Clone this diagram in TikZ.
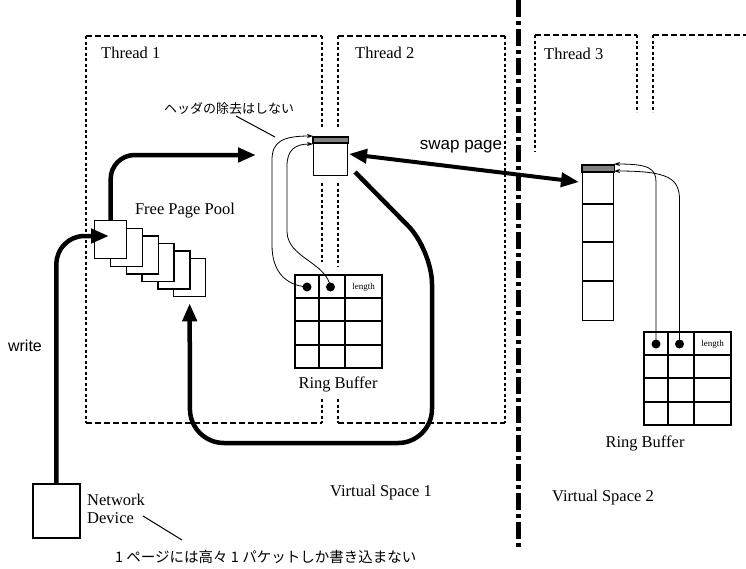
\documentclass[tikz,border=0pt]{standalone}
\usepackage{fontspec}
\setmainfont{Liberation Serif}
\newfontfamily\jpfont{Noto Sans CJK JP}
\newfontfamily\hvfont{Liberation Sans}
\usetikzlibrary{arrows.meta}
\tikzset{
  threadh/.style={line width=1.5pt, dash pattern=on 6pt off 3pt},
  threadv/.style={line width=1.5pt, dash pattern=on 3pt off 2.5pt},
  vsline/.style={line width=5pt, dash pattern=on 17pt off 4pt on 4pt off 4pt},
  bigarrow/.style={line width=4.5pt, -{Triangle[length=18pt,width=14pt]}},
  ptrarrow/.style={line width=0.8pt, -{Stealth[length=6pt,width=4pt]}},
  pagebox/.style={draw, line width=1.3pt, fill=white, minimum width=32pt, minimum height=38pt, inner sep=0pt},
  lbl/.style={font=\fontsize{16.5}{18}\selectfont, inner sep=0pt},
}
\begin{document}
\begin{tikzpicture}[x=1pt,y=-1pt]
\useasboundingbox (0,0) rectangle (746,568);
\draw[threadh] (86,36) -- (322,36);
\draw[threadh] (86,423) -- (322,423);
\draw[threadv] (86,36) -- (86,423);
\draw[threadh] (338,36) -- (505,36);
\draw[threadh] (338,423) -- (505,423);
\draw[threadv] (505,36) -- (505,423);
\foreach \bx/\lo in {322/262,338/267} {
  \draw[threadv] (\bx,36) -- (\bx,128);
  \draw[threadv] (\bx,183) -- (\bx,\lo);
  \draw[threadv] (\bx,399) -- (\bx,423);
}
\draw[threadh] (535,35) -- (637,35);
\draw[threadv] (535,35) -- (535,152);
\draw[threadv] (637,35) -- (637,112);
\draw[threadh] (653,35) -- (746,35);
\draw[threadv] (653,35) -- (653,112);
\draw[vsline] (518,0) -- (518,550);
\node[lbl, anchor=west] (thr1) at (101,53) {Thread 1};
\node[lbl, anchor=west] (thr2) at (355,53) {Thread 2};
\node[lbl, anchor=west] (thr3) at (544,54) {Thread 3};
\foreach \i in {5,4,...,0}
  \node[pagebox, anchor=north west] (pool\i) at ({94+15.8*\i},{220+7.6*\i}) {};
\node[lbl] (poollbl) at (185,211) {Free Page Pool};
\node[pagebox, minimum width=34pt, anchor=north west] (swpA) at (313,137) {};
\draw[line width=1.1pt, fill=black!50] (swpA.north west) rectangle ([yshift=-6pt]swpA.north east);
\node[pagebox, minimum width=31pt, minimum height=155pt, anchor=north west] (colB) at (582,165) {};
\draw[line width=1.1pt, fill=black!50] (colB.north west) rectangle ([yshift=-7pt]colB.north east);
\foreach \ry in {204,242,281} \draw[line width=1.3pt] (582,\ry) -- (613,\ry);
\foreach \ox/\oy/\nm in {295/275/A,644/332/B} {
  \draw[line width=1.5pt] (\ox,\oy) rectangle (\ox+87,\oy+93);
  \foreach \cx in {24,50} \draw[line width=1.5pt] (\ox+\cx,\oy) -- (\ox+\cx,\oy+93);
  \foreach \ry in {23,46,70} \draw[line width=1.5pt] (\ox,\oy+\ry) -- (\ox+87,\oy+\ry);
  \coordinate (rb\nm d1) at (\ox+12,\oy+12);
  \coordinate (rb\nm d2) at (\ox+35.5,\oy+12);
  \fill (rb\nm d1) circle[radius=4.5pt];
  \fill (rb\nm d2) circle[radius=4.5pt];
  \node[font=\fontsize{9}{10}\selectfont, inner sep=0pt] (len\nm) at (\ox+68.5,\oy+12) {length};
}
\node[lbl] (rblA) at (338,384) {Ring Buffer};
\node[lbl] (rblB) at (645,443) {Ring Buffer};
\draw[ptrarrow] (rbAd1) .. controls (284,285) and (272,270) .. (272,245) -- (272,160) .. controls (272,142) and (282,136) .. (313,136);
\draw[ptrarrow] (rbAd2) .. controls (326,262) and (288,258) .. (287,232) -- (287,166) .. controls (287,150) and (295,144) .. (313,144);
\draw[ptrarrow] (rbBd1) -- (656,182) .. controls (656,168) and (648,164) .. (614,164);
\draw[ptrarrow] (rbBd2) -- (679.5,200) .. controls (679.5,178) and (668,171) .. (614,171);
\node[draw, line width=1.8pt, minimum width=47pt, minimum height=54pt, inner sep=0pt, anchor=north west] (ndev) at (32,483) {};
\node[lbl, anchor=west, align=left] (ndevlbl) at (87,509) {Network\\Device};
\coordinate (ndevtip) at (182,540);
\draw[line width=1pt] (143,516) -- (ndevtip);
\node[font=\jpfont\fontsize{14.5}{16}\selectfont, anchor=west, inner sep=0pt] (pktnote) at (115,557) {1 ページには高々 1 パケットしか書き込まない};
\node[font=\jpfont\fontsize{13}{15}\selectfont, inner sep=0pt] (hdrnote) at (229,109) {ヘッダの除去はしない};
\coordinate (hdrtip) at (275,137);
\draw[line width=1pt] (236,116) -- (hdrtip);
\draw[bigarrow, rounded corners=28pt] (ndev.north) |- (109,236);
\node[font=\hvfont\fontsize{16}{18}\selectfont, inner sep=0pt] (wrlbl) at (25,346) {write};
\draw[bigarrow, rounded corners=24pt] (pool0.north) |- (256,155);
\draw[bigarrow, rounded corners=34pt] (355,172) -- (432,250) -- (432,443) -- (190,443) -- ([yshift=-6pt]pool5.south);
\draw[line width=4pt, {Triangle[length=18pt,width=14pt]}-{Triangle[length=18pt,width=14pt]}] (349,154) -- (579,182);
\node[font=\hvfont\fontsize{17}{20}\selectfont, inner sep=0pt] (swaplbl) at (461,147) {swap page};
\node[lbl, anchor=west] (vs1) at (330,493) {Virtual Space 1};
\node[lbl, anchor=west] (vs2) at (552,498) {Virtual Space 2};
\end{tikzpicture}
\end{document}
